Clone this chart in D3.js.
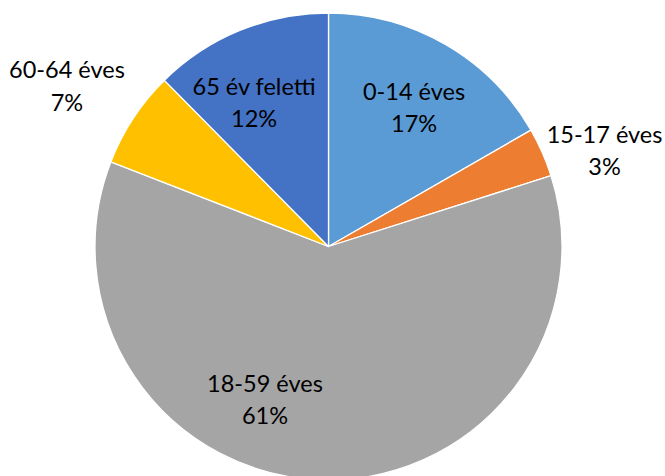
<!DOCTYPE html>
<html><head><meta charset="utf-8">
<script src="https://cdn.jsdelivr.net/npm/d3@7"></script>
<style>html,body{margin:0;padding:0;background:#fff;}svg{display:block;}</style>
</head><body>
<svg id="chart" width="665" height="476"></svg>
<script>
const categories = ["0-14 éves", "15-17 éves", "18-59 éves", "60-64 éves", "65 év feletti"];
const values = [16.7, 3.4, 60.8, 6.7, 12.4];
const colors = ["#5B9BD5", "#ED7D31", "#A5A5A5", "#FFC000", "#4472C4"];

const svg = d3.select("#chart");
const cx = 328.5, cy = 246.5, R = 233.5;
const g = svg.append("g").attr("transform", `translate(${cx},${cy})`);
const total = d3.sum(values);
const pie = d3.pie().sort(null).value(d => d)(values);
const arc = d3.arc().innerRadius(0).outerRadius(R);

g.selectAll("path").data(pie).join("path")
  .attr("d", arc)
  .attr("fill", (d, i) => colors[i])
  .attr("stroke", "#fff").attr("stroke-width", 1.3).attr("stroke-linejoin", "round");

// label placement (radius, angle in degrees from 12 o'clock), Excel-like best fit
const labelPos = [
  {r: 162.8, a: 31.7}, {r: 292.1, a: 70.9}, {r: 166.1, a: 202.5}, {r: 306.8, a: 301.5}, {r: 161.7, a: 332.6}
];
const fmt = v => Math.round(v / total * 100) + "%";
const font = "Lato, 'Open Sans', sans-serif";
const labels = g.selectAll("g.lab").data(pie).join("g").attr("class", "lab")
  .attr("transform", (d, i) => {
    const p = labelPos[i], t = p.a * Math.PI / 180;
    return `translate(${p.r * Math.sin(t)},${-p.r * Math.cos(t)})`;
  });
labels.append("text").attr("text-anchor", "middle").attr("y", -8)
  .style("font-family", font).style("font-size", "23.5px").attr("fill", "#000")
  .text((d, i) => categories[i]);
labels.append("text").attr("text-anchor", "middle").attr("y", 24.5)
  .style("font-family", font).style("font-size", "23.5px").attr("fill", "#000")
  .text(d => fmt(d.value));
</script>
</body></html>
